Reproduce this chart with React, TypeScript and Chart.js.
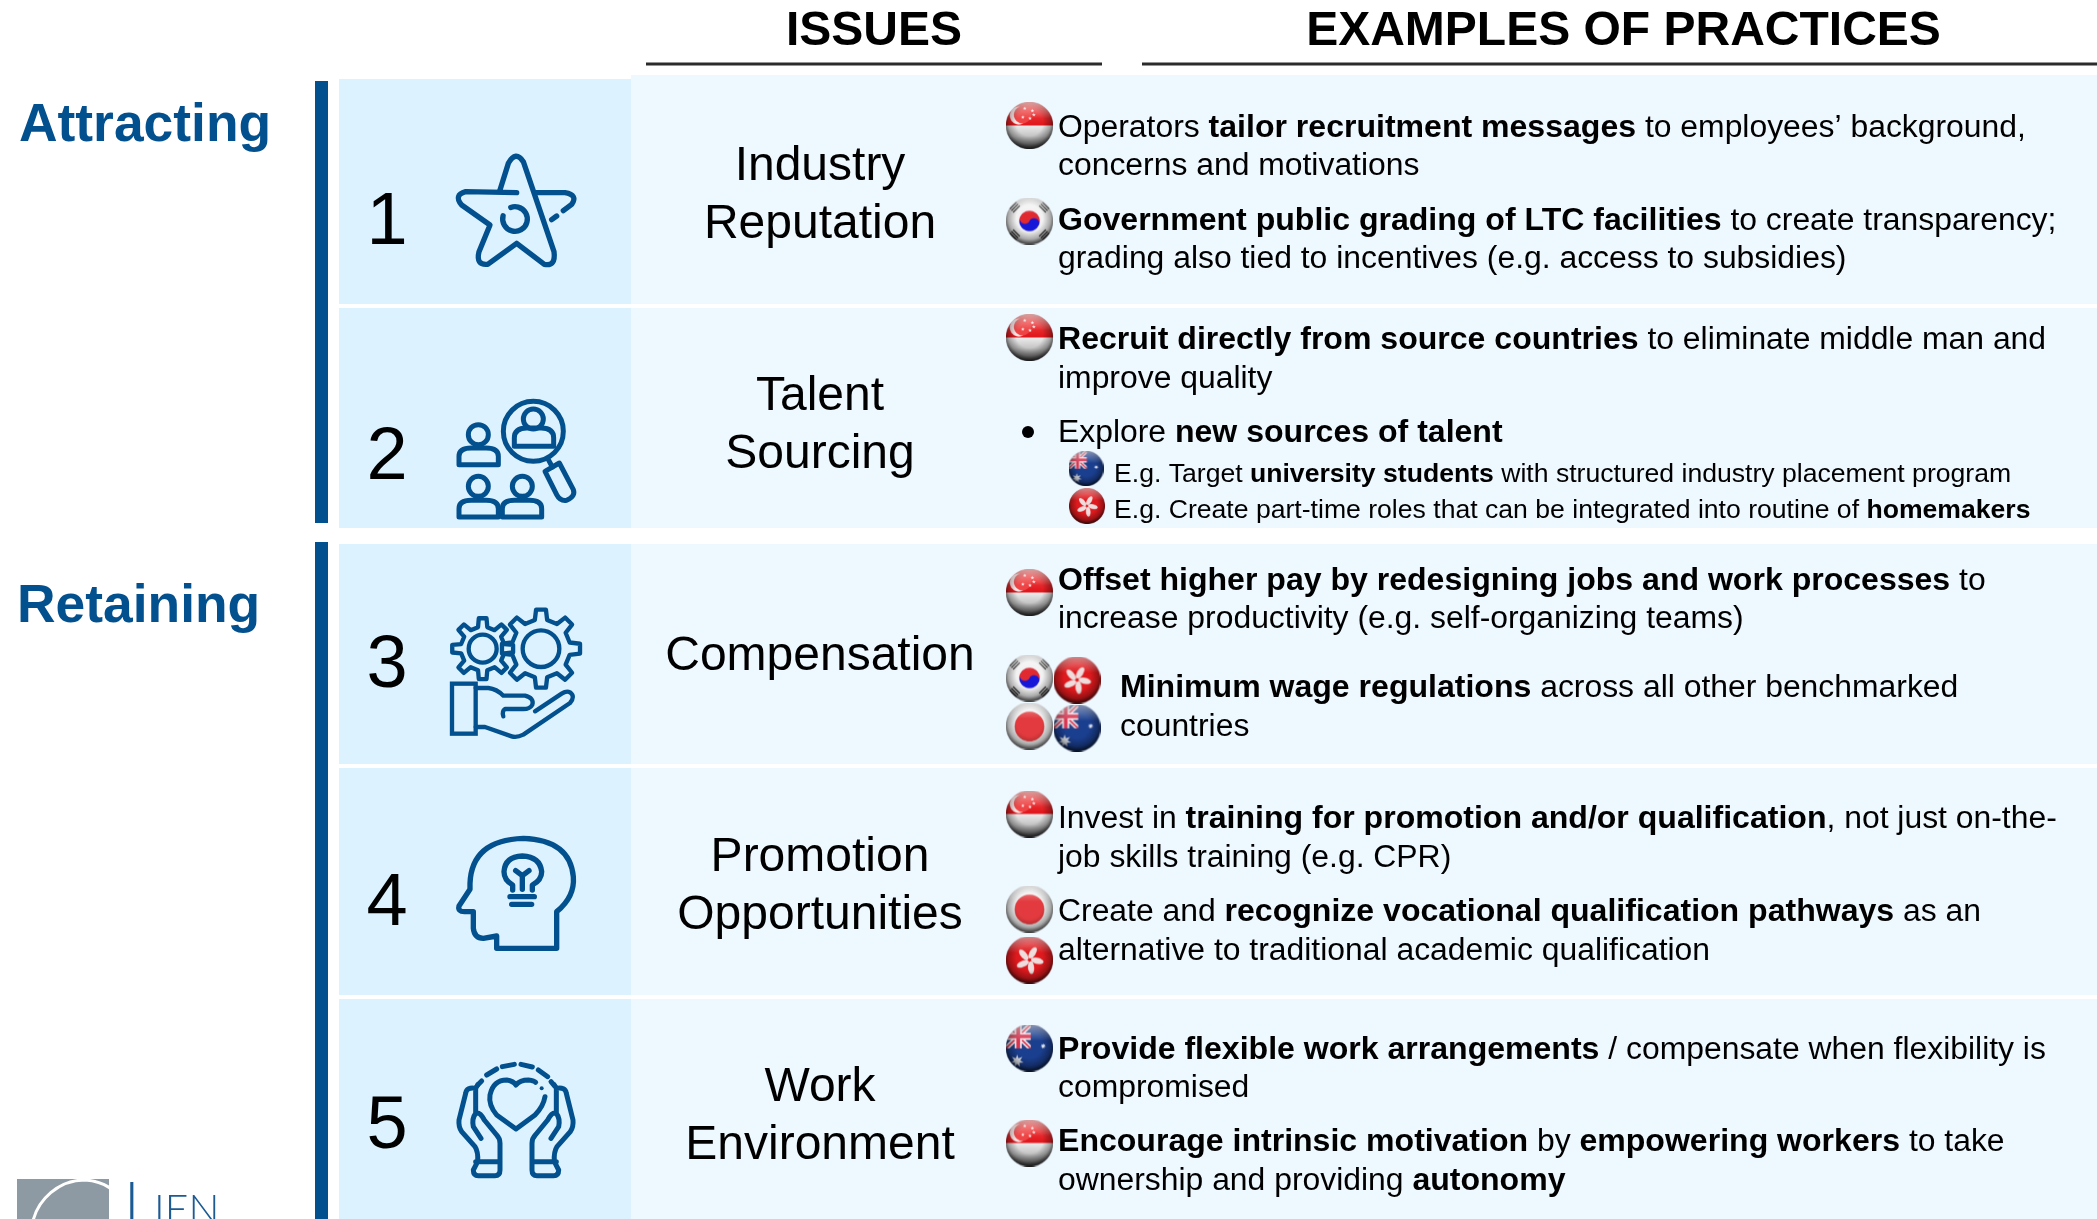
import React, { useEffect, useRef } from "react";
import { Chart, registerables } from "chart.js";

Chart.register(...registerables);

// ---------- content ----------
const headers = ["ISSUES", "EXAMPLES OF PRACTICES"];
const groups = ["Attracting", "Retaining"];
const rowNumbers = ["1", "2", "3", "4", "5"];
const issues = [
  ["Industry", "Reputation"],
  ["Talent", "Sourcing"],
  ["Compensation"],
  ["Promotion", "Opportunities"],
  ["Work", "Environment"],
];
const practices = [
  "Operators **tailor recruitment messages** to employees’ background,",
  "concerns and motivations",
  "**Government public grading of LTC facilities** to create transparency;",
  "grading also tied to incentives (e.g. access to subsidies)",
  "**Recruit directly from source countries** to eliminate middle man and",
  "improve quality",
  "Explore **new sources of talent**",
  "**Offset higher pay by redesigning jobs and work processes** to",
  "increase productivity (e.g. self-organizing teams)",
  "**Minimum wage regulations** across all other benchmarked",
  "countries",
  "Invest in **training for promotion and/or qualification**, not just on-the-",
  "job skills training (e.g. CPR)",
  "Create and **recognize vocational qualification pathways** as an",
  "alternative to traditional academic qualification",
  "**Provide flexible work arrangements** / compensate when flexibility is",
  "compromised",
  "**Encourage intrinsic motivation** by **empowering workers** to take",
  "ownership and providing **autonomy**",
];
const practiceBaselines = [137, 175, 230, 268, 349, 388, 442, 590, 628, 697, 736, 828, 867, 921, 960, 1059, 1097, 1151, 1190];
const practiceLefts = [1058, 1058, 1058, 1058, 1058, 1058, 1058, 1058, 1058, 1120, 1120, 1058, 1058, 1058, 1058, 1058, 1058, 1058, 1058];
const subPractices = [
  "E.g. Target **university students** with structured industry placement program",
  "E.g. Create part-time roles that can be integrated into routine of **homemakers**",
];
const subBaselines = [482, 518];

const flagKinds = ["SG", "KR", "SG", "AU", "HK", "SG", "KR", "HK", "JP", "AU", "SG", "JP", "HK", "AU", "SG"];
const flagX = [1029.5, 1029.5, 1029.5, 1086, 1087, 1029.5, 1029.5, 1077, 1029.5, 1077, 1029.5, 1029.5, 1029.5, 1029.5, 1029.5];
const flagY = [125.5, 221, 337.5, 468.5, 506, 592.5, 678, 680, 726, 728, 814, 909, 960, 1048, 1143];
const flagSize = [47, 47, 47, 35, 36, 47, 47, 47, 47, 47, 47, 47, 47, 47, 47];

const BLUE = "#03508F";
const FONT = '"Liberation Sans", Arial, sans-serif';

// ---------- flags ----------
function star(c: CanvasRenderingContext2D, x: number, y: number, r: number, n = 5) {
  c.beginPath();
  for (let i = 0; i < n * 2; i++) {
    const a = -Math.PI / 2 + (i * Math.PI) / n;
    const q = i % 2 ? r * 0.45 : r;
    c.lineTo(x + Math.cos(a) * q, y + Math.sin(a) * q);
  }
  c.closePath();
  c.fill();
}

function makeFlag(kind: string, d: number) {
  const S = 3;
  const big = document.createElement("canvas");
  big.width = big.height = d * S;
  const c = big.getContext("2d")!;
  const R = (d * S) / 2;
  c.translate(R, R);
  c.beginPath();
  c.arc(0, 0, R, 0, Math.PI * 2);
  c.clip();
  if (kind === "SG") {
    const w = c.createLinearGradient(0, 0, 0, R);
    w.addColorStop(0, "#EDEDED");
    w.addColorStop(0.45, "#C4C4C4");
    w.addColorStop(1, "#5A5A5A");
    c.fillStyle = w;
    c.fillRect(-R, 0, R * 2, R);
    const r = c.createLinearGradient(0, -R, 0, 0);
    r.addColorStop(0, "#F05B5B");
    r.addColorStop(0.45, "#EA3A3C");
    r.addColorStop(1, "#E01218");
    c.fillStyle = r;
    c.fillRect(-R, -R, R * 2, R);
    c.fillStyle = "#FFE9E9";
    c.beginPath();
    c.arc(-0.45 * R, -0.42 * R, 0.38 * R, 0, Math.PI * 2);
    c.fill();
    c.fillStyle = "#EE4445";
    c.beginPath();
    c.arc(-0.3 * R, -0.45 * R, 0.36 * R, 0, Math.PI * 2);
    c.fill();
    c.fillStyle = "#FFE9E9";
    [[-0.2, -0.72], [0.12, -0.62], [-0.28, -0.35], [0.02, -0.3], [0.18, -0.45]].forEach(([x, y]) => star(c, x * R, y * R, 0.08 * R));
  } else if (kind === "KR" || kind === "JP") {
    c.fillStyle = "#F2F2F2";
    c.fillRect(-R, -R, R * 2, R * 2);
    if (kind === "JP") {
      c.fillStyle = "#E23A3E";
      c.beginPath();
      c.arc(0, 0.02 * R, 0.63 * R, 0, Math.PI * 2);
      c.fill();
    } else {
      const t = 0.43 * R;
      c.save();
      c.rotate(0.45);
      c.fillStyle = "#1717D8";
      c.beginPath();
      c.arc(0, 0, t, 0, Math.PI * 2);
      c.fill();
      c.fillStyle = "#E02A30";
      c.beginPath();
      c.arc(0, 0, t, Math.PI, 0);
      c.arc(t / 2, 0, t / 2, 0, Math.PI, true);
      c.arc(-t / 2, 0, t / 2, 0, Math.PI, false);
      c.closePath();
      c.fill();
      c.restore();
      c.strokeStyle = "#333";
      c.lineWidth = 0.055 * R;
      [[-1, -1], [1, -1], [-1, 1], [1, 1]].forEach(([sx, sy]) => {
        c.save();
        c.translate(sx * 0.62 * R, sy * 0.58 * R);
        c.rotate(sx * sy > 0 ? -Math.PI / 4 : Math.PI / 4);
        for (let i = -1; i <= 1; i++) {
          c.beginPath();
          c.moveTo(-0.2 * R, i * 0.1 * R);
          c.lineTo(0.2 * R, i * 0.1 * R);
          c.stroke();
        }
        c.restore();
      });
    }
  } else if (kind === "HK") {
    c.fillStyle = "#DE1A1E";
    c.fillRect(-R, -R, R * 2, R * 2);
    c.fillStyle = "#EFDCDC";
    for (let i = 0; i < 5; i++) {
      c.save();
      c.rotate((i * 2 * Math.PI) / 5 + 0.2);
      c.beginPath();
      c.ellipse(0.07 * R, -0.32 * R, 0.13 * R, 0.27 * R, 0.35, 0, Math.PI * 2);
      c.fill();
      c.restore();
    }
  } else {
    c.fillStyle = "#1B3F8F";
    c.fillRect(-R, -R, R * 2, R * 2);
    c.save();
    c.beginPath();
    c.rect(-R, -R, R * 1.05, R * 1.02);
    c.clip();
    c.fillStyle = "#2A3F80";
    c.fillRect(-R, -R, R * 2, R * 2);
    const x0 = -R, y0 = -R, x1 = 0.05 * R, y1 = 0.02 * R;
    c.strokeStyle = "#F3E9EE";
    c.lineWidth = 0.2 * R;
    c.beginPath();
    c.moveTo(x0, y0); c.lineTo(x1, y1); c.moveTo(x1, y0); c.lineTo(x0, y1);
    c.stroke();
    c.strokeStyle = "#D9344F";
    c.lineWidth = 0.07 * R;
    c.stroke();
    const mx = (x0 + x1) / 2, my = (y0 + y1) / 2;
    c.strokeStyle = "#F3E9EE";
    c.lineWidth = 0.3 * R;
    c.beginPath();
    c.moveTo(mx, y0); c.lineTo(mx, y1); c.moveTo(x0, my); c.lineTo(x1, my);
    c.stroke();
    c.strokeStyle = "#D9344F";
    c.lineWidth = 0.16 * R;
    c.stroke();
    c.restore();
    c.fillStyle = "#E8ECF5";
    star(c, -0.52 * R, 0.55 * R, 0.28 * R, 7);
    star(c, 0.58 * R, -0.08 * R, 0.12 * R, 7);
  }
  // gloss: soft dark rim, darker towards the bottom
  const rim = c.createRadialGradient(0, -0.12 * R, 0, 0, -0.12 * R, 1.12 * R);
  rim.addColorStop(0, "rgba(0,0,0,0)");
  rim.addColorStop(0.5, "rgba(0,0,0,0)");
  rim.addColorStop(0.8, "rgba(0,0,0,0.3)");
  rim.addColorStop(1, "rgba(0,0,0,0.8)");
  c.fillStyle = rim;
  c.fillRect(-R, -R, R * 2, R * 2);
  const top = c.createLinearGradient(0, -R, 0, -0.3 * R);
  top.addColorStop(0, "rgba(255,255,255,0.5)");
  top.addColorStop(1, "rgba(255,255,255,0)");
  c.fillStyle = top;
  c.fillRect(-R, -R, R * 2, R * 2);
  // downsample so the marker is exactly d pixels
  const out = document.createElement("canvas");
  out.width = out.height = d;
  const o = out.getContext("2d")!;
  o.imageSmoothingQuality = "high";
  o.drawImage(big, 0, 0, d, d);
  return out;
}

// ---------- icons (paths in 3x crop units) ----------
const personPath = (cx: number, headY: number, bodyTop: number, bottom: number) => {
  const hw = 59;
  return `M${cx - hw} ${bottom} L${cx + hw} ${bottom} L${cx + hw} ${bottom - 25} Q${cx + hw} ${bodyTop} ${cx + 22} ${bodyTop} L${cx - 22} ${bodyTop} Q${cx - hw} ${bodyTop} ${cx - hw} ${bottom - 25} Z`;
};

function gearPath(c: CanvasRenderingContext2D, cx: number, cy: number, rIn: number, rOut: number, teeth: number, rot: number) {
  const step = (Math.PI * 2) / teeth;
  c.beginPath();
  for (let i = 0; i < teeth; i++) {
    const a = rot + i * step;
    const pts: [number, number][] = [
      [a - step * 0.27, rIn],
      [a - step * 0.16, rOut],
      [a + step * 0.16, rOut],
      [a + step * 0.27, rIn],
    ];
    pts.forEach(([t, r]) => c.lineTo(cx + Math.cos(t) * r, cy + Math.sin(t) * r));
  }
  c.closePath();
  c.stroke();
}

function circle(c: CanvasRenderingContext2D, x: number, y: number, r: number) {
  c.beginPath();
  c.arc(x, y, r, 0, Math.PI * 2);
  c.stroke();
}

function path(c: CanvasRenderingContext2D, d: string) {
  c.stroke(new Path2D(d));
}

function withIcon(c: CanvasRenderingContext2D, x: number, y: number, lw: number, fn: () => void) {
  c.save();
  c.translate(x, y);
  c.scale(1 / 3, 1 / 3);
  c.strokeStyle = BLUE;
  c.fillStyle = BLUE;
  c.lineWidth = lw;
  c.lineCap = "round";
  c.lineJoin = "round";
  fn();
  c.restore();
}

function drawIcons(c: CanvasRenderingContext2D) {
  withIcon(c, 445, 145, 16, () => {
    path(c, "M165 135 L190 55 Q212 15 235 50 L327 320 Q333 365 298 358 L215 295 L128 358 Q92 362 102 320 L135 240 L50 180 Q25 150 62 140 L215 143");
    path(c, "M270 143 L360 143 Q400 150 380 178 L355 197");
    path(c, "M320 224 L335 213");
    c.beginPath();
    c.arc(210, 222, 37, (195 * Math.PI) / 180, (-110 * Math.PI) / 180, true);
    c.stroke();
  });
  withIcon(c, 445, 393, 15, () => {
    circle(c, 265, 115, 90);
    circle(c, 265, 78, 30);
    path(c, personPath(267, 78, 105, 160));
    path(c, "M310 200 L322 222");
    path(c, "M300 235 L343 210 L385 290 Q392 310 365 322 Q345 325 335 305 Z");
    circle(c, 100, 125, 30);
    path(c, personPath(101, 125, 165, 215));
    circle(c, 100, 280, 30);
    path(c, personPath(101, 280, 322, 372));
    circle(c, 232, 280, 30);
    path(c, personPath(231, 280, 322, 372));
  });
  withIcon(c, 445, 603, 13, () => {
    gearPath(c, 288, 137, 88, 118, 8, -Math.PI / 2);
    circle(c, 288, 137, 55);
    gearPath(c, 113, 137, 66, 92, 8, -Math.PI / 2);
    circle(c, 113, 137, 42);
    c.lineJoin = "miter";
    c.strokeRect(21, 242, 71, 150);
    c.lineJoin = "round";
    path(c, "M92 255 L130 255 Q155 258 175 278 L240 278 Q268 285 262 305 Q255 318 235 318 L180 318 Q170 325 175 340");
    path(c, "M92 372 L120 372 L200 400 Q215 405 235 395 L375 300 Q392 280 375 268 Q365 262 350 272 L270 325");
  });
  withIcon(c, 445, 830, 16, () => {
    path(c, "M335 355 L335 245 Q390 200 385 140 Q375 30 235 25 Q80 30 75 160 L75 178 L42 228 Q38 245 58 245 L85 245 L85 295 Q88 325 115 325 L155 318 L155 355 Z");
    path(c, "M203 180 L203 165 Q177 150 177 125 Q180 80 232 78 Q285 80 290 125 Q290 150 262 165 L262 180");
    path(c, "M232 178 L232 137 M212 122 L232 137 L252 122");
    path(c, "M195 200 L268 200 M200 223 L260 223");
  });
  withIcon(c, 445, 1055, 15, () => {
    path(c, "M300 125 Q295 155 270 180 L213 222 L155 180 Q130 150 135 120 Q145 75 185 75 Q205 78 213 90 Q225 75 250 75 Q268 77 272 82");
    c.beginPath();
    c.arc(290, 100, 6, 0, Math.PI * 2);
    c.fill();
    path(c, "M125 60 L155 42 M172 35 L208 28 M228 28 L262 36 M280 45 L308 65 M98 90 L110 78 M318 80 L328 92");
    const hand = "M98 90 L92 100 Q65 95 62 115 L42 195 Q40 215 50 230 L90 275 Q100 290 98 320 L85 345 Q85 362 100 362 L150 362 Q165 362 165 345 L165 265 Q165 250 155 240 L118 195 Q105 170 92 175 Q80 190 85 215 L108 250 M92 100 L92 175 M92 320 L165 320";
    path(c, hand);
    c.save();
    c.translate(426, 0);
    c.scale(-1, 1);
    path(c, hand);
    c.restore();
  });
}

function drawRich(c: CanvasRenderingContext2D, text: string, x: number, y: number, regular: number, bold: number) {
  const parts = text.split("**");
  let cur = x;
  parts.forEach((p, i) => {
    c.font = i % 2 ? `bold ${bold}px ${FONT}` : `${regular}px ${FONT}`;
    c.fillText(p, cur, y);
    cur += c.measureText(p).width;
  });
}

const tablePlugin = {
  id: "table",
  beforeDatasetsDraw(chart: any) {
    const c: CanvasRenderingContext2D = chart.ctx;
    const X = chart.scales.x, Y = chart.scales.y;
    const rect = (x0: number, x1: number, y0: number, y1: number, col: string) => {
      const px0 = X.getPixelForValue(x0), py0 = Y.getPixelForValue(y0);
      c.fillStyle = col;
      c.fillRect(px0, py0, X.getPixelForValue(x1) - px0, Y.getPixelForValue(y1) - py0);
    };
    const tops = [75, 308, 544, 768, 999];
    const lefts = [79, 308, 544, 768, 999];
    const bottoms = [304, 528, 764, 995, 1219];
    tops.forEach((t, i) => {
      rect(631, 2097, t, bottoms[i], "#EEF8FF");
      rect(339, 631, lefts[i], bottoms[i], "#DCF2FE");
    });
    rect(315, 328, 81, 523, BLUE);
    rect(315, 328, 542, 1219, BLUE);
    rect(646, 1102, 62.5, 65.5, "#2B2B2B");
    rect(1142, 2097, 62.5, 65.5, "#2B2B2B");

    // logo
    c.save();
    rect(17, 109, 1179, 1219, "#8E9AA3");
    c.beginPath();
    c.rect(17, 1179, 92, 40);
    c.clip();
    c.strokeStyle = "#FFFFFF";
    c.lineWidth = 3;
    c.beginPath();
    c.moveTo(33, 1221);
    c.bezierCurveTo(38, 1200, 58, 1180, 85, 1180);
    c.quadraticCurveTo(100, 1181, 110, 1188);
    c.stroke();
    c.restore();
    c.fillStyle = "#1B5A93";
    c.textAlign = "left";
    c.textBaseline = "alphabetic";
    c.font = `300 60px Lato, ${FONT}`;
    c.fillText("L", 124, 1224);
    c.font = `300 41px Lato, ${FONT}`;
    c.fillText("IEN", 154, 1224);
  },
  afterDatasetsDraw(chart: any) {
    const c: CanvasRenderingContext2D = chart.ctx;
    c.save();
    c.textBaseline = "alphabetic";
    c.fillStyle = "#000";
    // headers
    c.textAlign = "center";
    c.font = `bold 48px ${FONT}`;
    c.fillText(headers[0], 874, 45);
    c.fillText(headers[1], 1623.5, 45);
    // group labels
    c.textAlign = "left";
    c.fillStyle = BLUE;
    c.font = `bold 53.4px ${FONT}`;
    c.fillText(groups[0], 19, 141);
    c.fillText(groups[1], 17, 622);
    // numbers
    c.fillStyle = "#000";
    c.textAlign = "center";
    c.font = `74px ${FONT}`;
    const numBase = [244, 479, 687, 925, 1148];
    rowNumbers.forEach((n, i) => c.fillText(n, 387, numBase[i]));
    // issues
    c.font = `48px ${FONT}`;
    const issueBase = [[180, 238], [410, 468], [670], [871, 929], [1101, 1159]];
    issues.forEach((ls, i) => ls.forEach((l, j) => c.fillText(l, 820, issueBase[i][j])));
    // practices
    c.textAlign = "left";
    practices.forEach((t, i) => drawRich(c, t, practiceLefts[i], practiceBaselines[i], 31.88, 32.05));
    subPractices.forEach((t, i) => drawRich(c, t, 1114, subBaselines[i], 26.6, 26.6));
    drawIcons(c);
    c.restore();
  },
};

export default function App() {
  const ref = useRef<HTMLCanvasElement>(null);
  useEffect(() => {
    document.body.style.margin = "0";
    document.body.style.overflow = "hidden";
    const chart = new Chart(ref.current!, {
      type: "scatter",
      data: {
        datasets: [
          {
            label: "flags",
            data: flagX.map((x, i) => ({ x, y: flagY[i] })),
            pointStyle: flagKinds.map((k, i) => makeFlag(k, flagSize[i])) as any,
          },
          {
            label: "bullet",
            data: [{ x: 1028, y: 432 }],
            pointRadius: 6,
            backgroundColor: "#000",
            borderWidth: 0,
          },
        ],
      },
      options: {
        animation: false,
        responsive: false,
        devicePixelRatio: 1,
        layout: { padding: 0, autoPadding: false },
        plugins: { legend: { display: false }, tooltip: { enabled: false }, title: { display: false } },
        scales: {
          x: { type: "linear", min: 0, max: 2097, display: false },
          y: { type: "linear", min: 0, max: 1219, reverse: true, display: false },
        },
      },
      plugins: [tablePlugin],
    });
    return () => chart.destroy();
  }, []);
  return (
    <div style={{ position: "absolute", left: 0, top: 0, width: 2097, height: 1219 }}>
      <canvas ref={ref} width={2097} height={1219} style={{ display: "block" }} />
    </div>
  );
}
